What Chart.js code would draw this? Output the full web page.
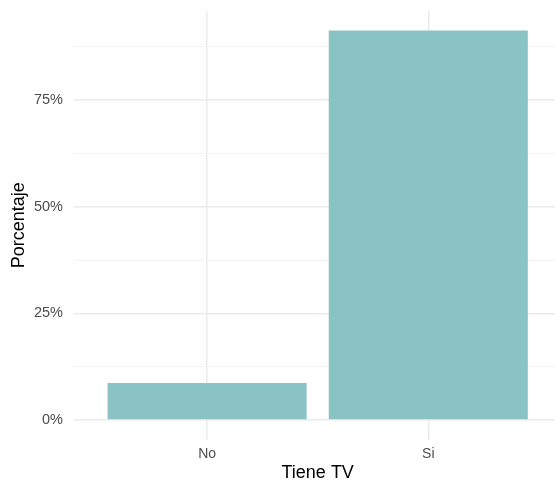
<!DOCTYPE html>
<html>
<head>
<meta charset="utf-8">
<script src="https://cdn.jsdelivr.net/npm/chart.js@4.4.1/dist/chart.umd.min.js"></script>
<style>
  html, body { margin: 0; padding: 0; background: #fff; overflow: hidden; }
  #wrap { width: 561px; height: 482px; }
</style>
</head>
<body>
<div id="wrap"><canvas id="chart" width="561" height="482"></canvas></div>
<script>
const categories = ['No', 'Si'];
const porcentajes = [8.7, 91.3];
const yTicks = [0, 12.5, 25, 37.5, 50, 62.5, 75, 87.5];
const yTickLabels = { 0: '0%', 25: '25%', 50: '50%', 75: '75%' };

const barColor = '#89c3c3';
const textGrey = '#4d4d4d';
const font = "'Liberation Sans', Arial, sans-serif";

const isMajor = v => yTickLabels[v] !== undefined;

const ctx = document.getElementById('chart');

new Chart(ctx, {
    type: 'bar',
    data: {
        datasets: [{
            data: categories.map((c, i) => ({ x: i + 1, y: porcentajes[i] })),
            backgroundColor: barColor,
            borderWidth: 0,
            barPercentage: 0.9,
            categoryPercentage: 1
        }]
    },
    options: {
        responsive: false,
        animation: false,
        layout: { padding: { top: 11, left: 8, right: 0, bottom: 2 } },
        plugins: {
            legend: { display: false },
            tooltip: { enabled: false }
        },
        scales: {
            x: {
                type: 'linear',
                min: 0.4,
                max: 2.6,
                offset: false,
                afterBuildTicks: scale => {
                    scale.ticks = categories.map((c, i) => ({ value: i + 1 }));
                },
                ticks: {
                    callback: v => categories[v - 1],
                    color: textGrey,
                    font: { family: font, size: 14, lineHeight: 1 },
                    padding: 7.5,
                    maxRotation: 0
                },
                grid: { color: '#ebebeb', lineWidth: 1.5, drawTicks: false, offset: false },
                border: { display: false },
                title: {
                    display: true,
                    text: 'Tiene TV',
                    color: '#000',
                    font: { family: font, size: 18, lineHeight: 1 },
                    padding: { top: -4.5, bottom: -2 }
                }
            },
            y: {
                min: -4.565,
                max: 95.87,
                afterBuildTicks: scale => {
                    scale.ticks = yTicks.map(v => ({ value: v }));
                },
                afterFit: scale => {
                    scale.paddingTop = 0;
                    scale.paddingBottom = 0;
                    scale.width = 66.4;
                },
                ticks: {
                    callback: v => yTickLabels[v] || '',
                    color: textGrey,
                    font: { family: font, size: 14.5 },
                    padding: 11.4
                },
                grid: {
                    color: c => isMajor(c.tick.value) ? '#ebebeb' : '#f3f3f3',
                    lineWidth: c => isMajor(c.tick.value) ? 1.5 : 1,
                    drawTicks: false
                },
                border: { display: false },
                title: {
                    display: true,
                    text: 'Porcentaje',
                    color: '#000',
                    font: { family: font, size: 18 },
                    padding: { top: 0, bottom: 3.5 }
                }
            }
        }
    }
});
</script>
</body>
</html>
